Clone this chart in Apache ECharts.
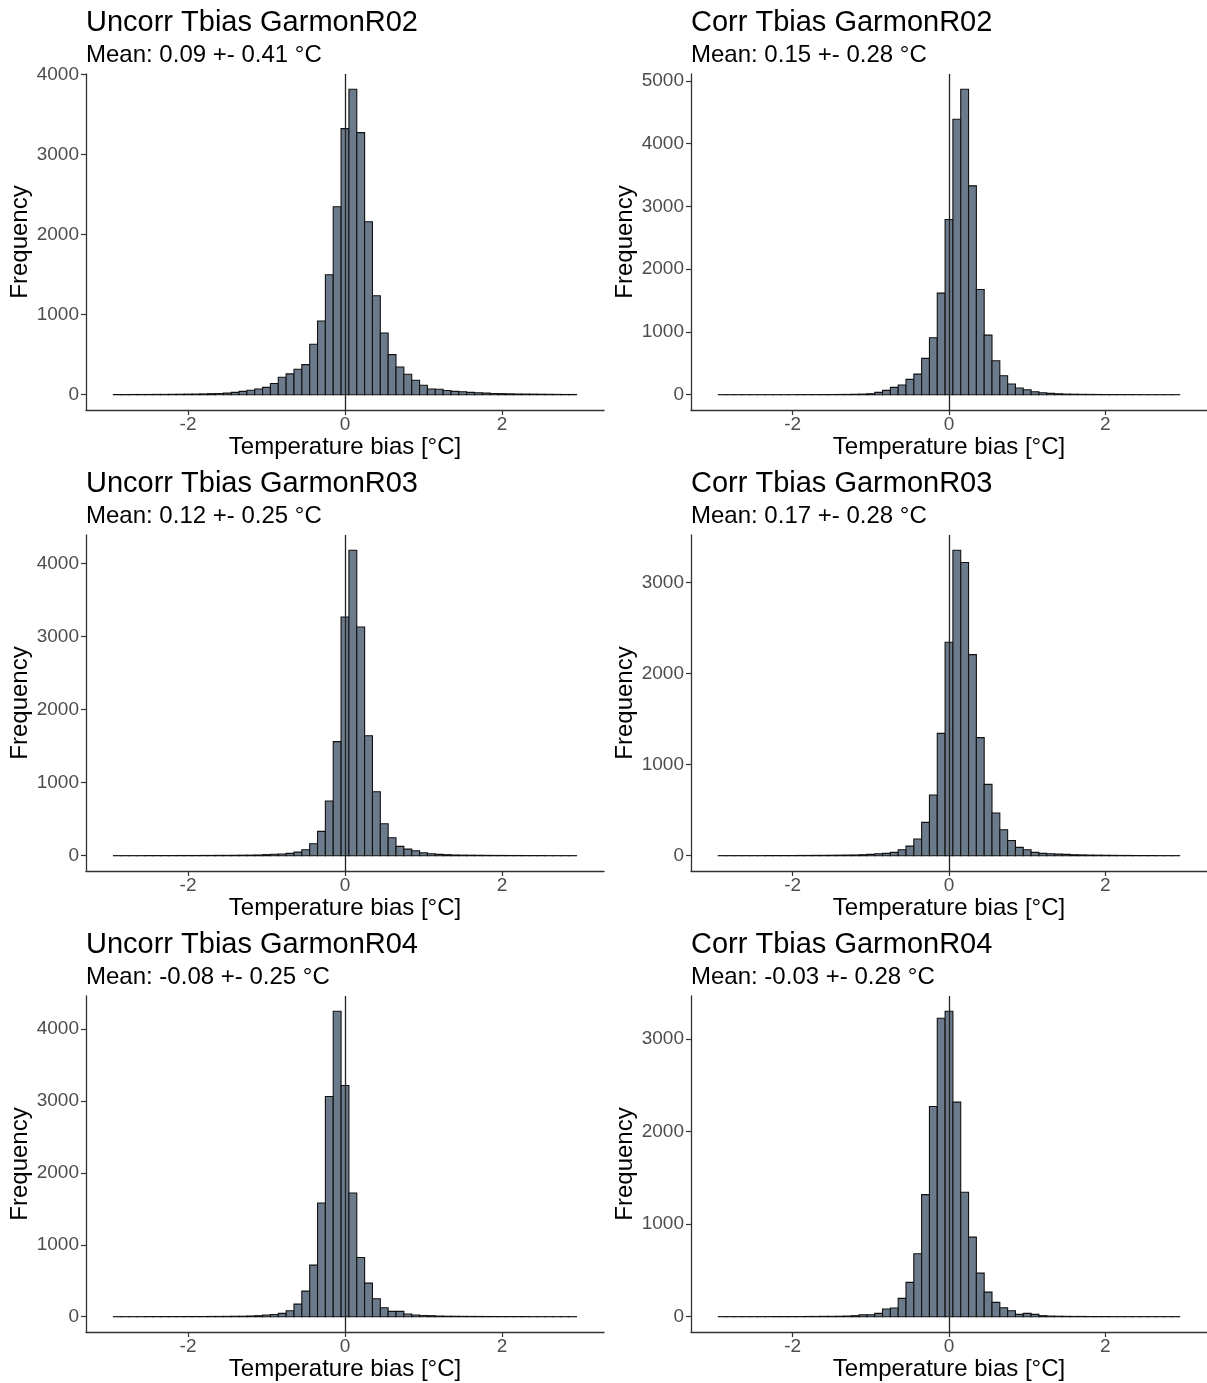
<!DOCTYPE html>
<html>
<head>
<meta charset="utf-8">
<script src="https://cdn.jsdelivr.net/npm/echarts@6/dist/echarts.min.js"></script>
<style>
html,body{margin:0;padding:0;background:#fff;}
#chart{width:1207px;height:1383px;}
</style>
</head>
<body>
<div id="chart"></div>
<script>
// Bin centers (binwidth 0.1)
var BIN_CENTERS = [-2.9,-2.8,-2.7,-2.6,-2.5,-2.4,-2.3,-2.2,-2.1,-2.0,
  -1.9,-1.8,-1.7,-1.6,-1.5,-1.4,-1.3,-1.2,-1.1,-1.0,
  -0.9,-0.8,-0.7,-0.6,-0.5,-0.4,-0.3,-0.2,-0.1,0,
  0.1,0.2,0.3,0.4,0.5,0.6,0.7,0.8,0.9,1.0,
  1.1,1.2,1.3,1.4,1.5,1.6,1.7,1.8,1.9,2.0,
  2.1,2.2,2.3,2.4,2.5,2.6,2.7,2.8,2.9];
var BIN_WIDTH = 0.1;

var TITLES = ["Uncorr Tbias GarmonR02","Corr Tbias GarmonR02",
              "Uncorr Tbias GarmonR03","Corr Tbias GarmonR03",
              "Uncorr Tbias GarmonR04","Corr Tbias GarmonR04"];
var SUBTITLES = ["Mean: 0.09 +- 0.41 \u00B0C","Mean: 0.15 +- 0.28 \u00B0C",
                 "Mean: 0.12 +- 0.25 \u00B0C","Mean: 0.17 +- 0.28 \u00B0C",
                 "Mean: -0.08 +- 0.25 \u00B0C","Mean: -0.03 +- 0.28 \u00B0C"];

var uncorrR02 = [2,2,3,3,3,4,4,5,6,7, 8,10,13,16,20,30,42,56,72,92, 140,218,260,318,376,630,920,1499,2347,
  3323,
  3815,3273,2160,1237,771,501,347,256,181,118, 72,68,52,42,38,30,25,20,16,13, 11,9,8,7,6,5,4,3,3];
var corrR02 = [1,1,1,1,1,1,1,1,1,1,2,2,2,3,3,4,5,7, 10,16,37,69,117,154,244,329,579,908,1619,
  2792,
  4390,4867,3328,1677,950,541,303,170,106,80, 48,32,21,15,10,8,6,5,4,3, 3,2,2,2,1,1,1,1,1];
var uncorrR03 = [1,1,1,1,2,2,2,2,3,3,3,4,4,5,5,6,7,8, 10,15,20,23,32,50,82,164,333,749,1562,
  3269,
  4183,3132,1644,877,438,247,128,91,68,41, 27,18,14,10,8,7,6,5,4,4, 3,3,2,2,2,1,1,1,1];
var corrR03 = [1,1,1,1,1,1,2,2,2,2,3,3,4,4,5,6,7,8, 11,15,22,26,37,66,106,183,366,667,1344,
  2344,
  3355,3220,2209,1297,784,469,286,168,92,66, 37,26,22,18,15,11,9,7,6,5, 4,3,3,2,2,2,1,1,1];
var uncorrR04 = [1,1,1,1,2,2,2,2,2,3,3,3,4,4,5,6,7,10, 14,23,32,46,83,176,356,718,1583,3065,4250,
  3218,
  1722,824,468,250,125,74,74,37,23,18, 14,9,7,6,5,4,4,3,3,2, 2,2,2,1,1,1,1,1,1];
var corrR04 = [1,1,1,1,1,1,1,2,2,2,2,3,3,4,4,5, 7,11,22,22,36,83,94,198,371,680,1320,2273,3227,
  3302,
  2320,1345,860,471,266,155,97,65,25,36, 25,11,7,5,4,3,3,2,2,2, 1,1,1,1,1,1,1,1,1];

var SERIES_VALUES = [uncorrR02, corrR02, uncorrR03, corrR03, uncorrR04, corrR04];

var X_TICKS = [-2, 0, 2];
var Y_TICKS = [[0,1000,2000,3000,4000],[0,1000,2000,3000,4000,5000],
               [0,1000,2000,3000,4000],[0,1000,2000,3000],
               [0,1000,2000,3000,4000],[0,1000,2000,3000]];

var FONT = "'Liberation Sans', Arial, Helvetica, sans-serif";
var FILL = '#6C7B8B';

function makeRender() {
  return function (params, api) {
    var x = api.value(0), y = api.value(1);
    var p0 = api.coord([x - BIN_WIDTH / 2, y]);
    var p1 = api.coord([x + BIN_WIDTH / 2, 0]);
    return {type: 'rect',
      shape: {x: p0[0], y: p0[1], width: p1[0] - p0[0], height: p1[1] - p0[1]},
      style: {fill: FILL, stroke: '#111', lineWidth: 1.1}};
  };
}
function plain(v) { return String(v); }

function buildOption() {
  var grids = [], xAxes = [], yAxes = [], series = [], graphics = [];
  for (var i = 0; i < 6; i++) {
    var c = i % 2, r = Math.floor(i / 2);
    var gLeft = 86 + c * 605, gTop = 74 + r * 461;
    var vmax = Math.max.apply(null, SERIES_VALUES[i]);
    grids.push({left: gLeft, top: gTop, width: 518, height: 336});
    xAxes.push({
      type: 'value', gridIndex: i, min: -3.3, max: 3.3,
      name: 'Temperature bias [\u00B0C]', nameLocation: 'middle', nameGap: 24,
      nameTextStyle: {fontSize: 24, color: '#000', fontFamily: FONT},
      axisLine: {show: true, onZero: false, lineStyle: {color: '#333', width: 1.3}},
      axisTick: {show: true, length: 5, customValues: X_TICKS, lineStyle: {color: '#333', width: 1.2}},
      axisLabel: {customValues: X_TICKS, formatter: plain, fontSize: 19, color: '#4D4D4D', margin: 5, fontFamily: FONT},
      splitLine: {show: false}
    });
    yAxes.push({
      type: 'value', gridIndex: i,
      min: -0.05 * vmax, max: 1.05 * vmax,
      name: 'Frequency', nameLocation: 'middle', nameGap: 44,
      nameTextStyle: {fontSize: 24, color: '#000', fontFamily: FONT},
      axisLine: {show: true, onZero: false, lineStyle: {color: '#333', width: 1.3}},
      axisTick: {show: true, length: 5, customValues: Y_TICKS[i], lineStyle: {color: '#333', width: 1.2}},
      axisLabel: {customValues: Y_TICKS[i], formatter: plain, fontSize: 19, color: '#4D4D4D', margin: 7, fontFamily: FONT},
      splitLine: {show: false}
    });
    var vals = SERIES_VALUES[i];
    var data = BIN_CENTERS.map(function (x, k) { return [x, vals[k]]; });
    series.push({
      type: 'custom', xAxisIndex: i, yAxisIndex: i, data: data, silent: true,
      renderItem: makeRender()
    });
    series.push({
      type: 'line', xAxisIndex: i, yAxisIndex: i, data: [], silent: true, z: 5,
      markLine: {
        silent: true, symbol: ['none', 'none'], animation: false,
        label: {show: false},
        lineStyle: {color: '#222', width: 1.3, type: 'solid'},
        data: [{xAxis: 0}]
      }
    });
    graphics.push({type: 'text', left: gLeft, top: 8 + r * 461,
      style: {text: TITLES[i], font: '29px ' + FONT, fill: '#000'}});
    graphics.push({type: 'text', left: gLeft, top: 43 + r * 461,
      style: {text: SUBTITLES[i], font: '24px ' + FONT, fill: '#000'}});
  }
  return {animation: false, grid: grids, xAxis: xAxes, yAxis: yAxes, series: series, graphic: graphics};
}

var chart = echarts.init(document.getElementById('chart'));
chart.setOption(buildOption());
</script>
</body>
</html>
